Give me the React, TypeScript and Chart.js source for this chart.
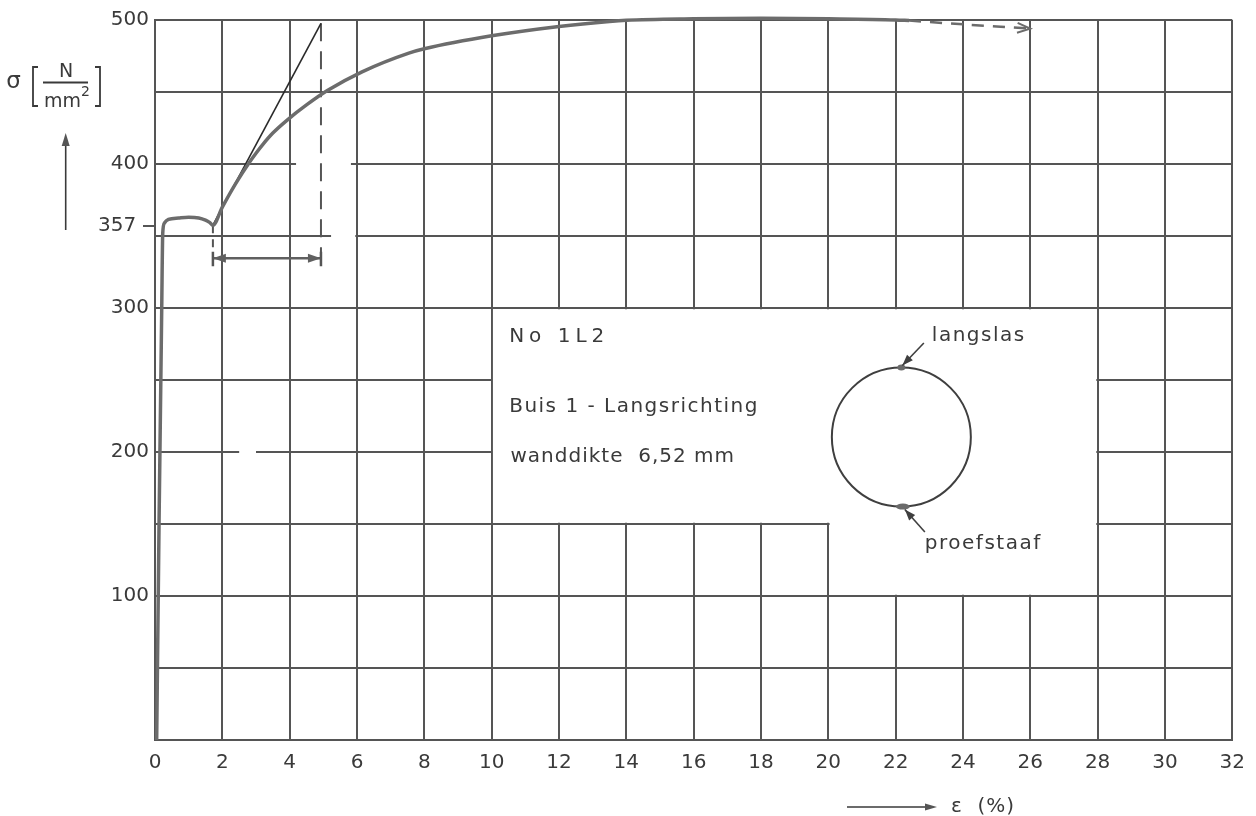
import React, { useEffect, useRef } from 'react';
import { Chart, registerables } from 'chart.js';

Chart.register(...registerables);

// ---- data ----
const strain = [0.05, 0.12, 0.2, 0.23, 0.28, 0.4, 0.7, 1.0, 1.3, 1.5, 1.62, 1.72, 2.0, 2.4, 2.8, 3.0, 3.2, 3.5, 3.9, 4.5, 5.12, 6.15, 7.54, 8, 10, 12, 13.5, 14, 16, 18, 20, 22, 22.4];
const stress = [0, 150, 300, 352, 359, 361.5, 362.5, 363, 362.5, 361, 359.5, 357.5, 370, 386.5, 401, 407.5, 413.5, 421.5, 430, 441, 451, 464, 477, 480, 489, 495.5, 499, 499.8, 500.8, 501.2, 500.8, 500, 499.6];

const contStrain = [22.4, 24, 26];
const contStress = [499.6, 497, 494];

const tangentStrain = [1.72, 4.93];
const tangentStress = [357.5, 497.7];

const uniformStrainLimits = [1.72, 4.93];
const dimStress = [334.5, 334.5];
const capStress = [339, 329];
const rightGuideStress = [497.7, 329];
const leftGuideStress = [357.5, 339];

const xTickValues = [0, 2, 4, 6, 8, 10, 12, 14, 16, 18, 20, 22, 24, 26, 28, 30, 32];
const yGridValues = [0, 50, 100, 150, 200, 250, 300, 350, 400, 450, 500];
const yLabelledValues = [100, 200, 300, 400, 500, 357];
const yieldStress = 357;

const infoLines = ['No 1L2', 'Buis 1 - Langsrichting', 'wanddikte  6,52 mm'];

const pts = (xs: number[], ys: number[]) => xs.map((v, i) => ({ x: v, y: ys[i] }));

// ---- annotation geometry (in data units) ----
const box = { x0: 10, x1: 28, xMid: 20, yTop: 300, yMid: 150, yBot: 100 };
const gridGaps = [
  { y: 400, from: 4.19, to: 5.82 },
  { y: 350, from: 5.23, to: 5.95 },
  { y: 200, from: 2.5, to: 3.0 },
];
const infoPos = [
  { x: 10.52, y: 276.6, spacing: 5 },
  { x: 10.52, y: 228, spacing: 1.5 },
  { x: 10.56, y: 193.3, spacing: 1.0 },
];
const circleCenter = { x: 22.17, y: 210.4 };

const GRID = '#555555';
const TEXT = '#3a3a3a';
const FONT = '"DejaVu Sans", sans-serif';

function arrowHead(ctx: CanvasRenderingContext2D, tipX: number, tipY: number, fromX: number, fromY: number, len: number, half: number, filled: boolean) {
  const ang = Math.atan2(tipY - fromY, tipX - fromX);
  const bx = tipX - Math.cos(ang) * len;
  const by = tipY - Math.sin(ang) * len;
  const px = -Math.sin(ang) * half;
  const py = Math.cos(ang) * half;
  ctx.beginPath();
  if (filled) {
    ctx.moveTo(tipX, tipY);
    ctx.lineTo(bx + px, by + py);
    ctx.lineTo(bx - px, by - py);
    ctx.closePath();
    ctx.fill();
  } else {
    ctx.moveTo(bx + px, by + py);
    ctx.lineTo(tipX, tipY);
    ctx.lineTo(bx - px, by - py);
    ctx.stroke();
  }
}

const annotPlugin = {
  id: 'annot',
  beforeDatasetsDraw(chart: any) {
    const { ctx, scales } = chart;
    const x = scales.x;
    const y = scales.y;
    ctx.save();
    ctx.fillStyle = '#ffffff';
    const i = 1.3;
    const l = x.getPixelForValue(box.x0) + i;
    const r = x.getPixelForValue(box.x1) - i;
    const m = x.getPixelForValue(box.xMid) + i;
    const t = y.getPixelForValue(box.yTop) + i;
    const b1 = y.getPixelForValue(box.yMid) - i;
    const b2 = y.getPixelForValue(box.yBot) - i;
    ctx.beginPath();
    ctx.moveTo(l, t);
    ctx.lineTo(r, t);
    ctx.lineTo(r, b2);
    ctx.lineTo(m, b2);
    ctx.lineTo(m, b1);
    ctx.lineTo(l, b1);
    ctx.closePath();
    ctx.fill();
    gridGaps.forEach((g) => {
      const py = y.getPixelForValue(g.y);
      const a = x.getPixelForValue(g.from);
      const b = x.getPixelForValue(g.to);
      ctx.fillRect(a, py - 2, b - a, 4);
    });
    ctx.restore();
  },
  afterDatasetsDraw(chart: any) {
    const { ctx } = chart;
    chart.data.datasets.forEach((ds: any, idx: number) => {
      if (!ds.arrows) return;
      const meta = chart.getDatasetMeta(idx);
      const d = meta.data;
      if (d.length < 2) return;
      ctx.save();
      ctx.fillStyle = ds.borderColor;
      ctx.strokeStyle = ds.borderColor;
      ctx.lineWidth = 2;
      ctx.setLineDash([]);
      const a = ds.arrows;
      if (a.end) {
        const p = d[d.length - 1];
        const q = d[d.length - 2];
        arrowHead(ctx, p.x, p.y, q.x, q.y, a.len, a.half, a.filled);
      }
      if (a.start) {
        const p = d[0];
        const q = d[1];
        arrowHead(ctx, p.x, p.y, q.x, q.y, a.len, a.half, a.filled);
      }
      ctx.restore();
    });
  },
  afterDraw(chart: any) {
    const { ctx, scales } = chart;
    const x = scales.x;
    const y = scales.y;
    ctx.save();
    ctx.fillStyle = TEXT;
    ctx.strokeStyle = TEXT;
    ctx.textBaseline = 'alphabetic';
    ctx.textAlign = 'left';

    // info text in the box
    ctx.font = `20px ${FONT}`;
    infoLines.forEach((s, k) => {
      const p = infoPos[k];
      (ctx as any).letterSpacing = `${p.spacing}px`;
      ctx.fillText(s, x.getPixelForValue(p.x), y.getPixelForValue(p.y));
    });

    // tube cross-section
    const cx = x.getPixelForValue(circleCenter.x);
    const cy = y.getPixelForValue(circleCenter.y);
    const R = 69.5;
    ctx.lineWidth = 2;
    ctx.strokeStyle = '#3f3f3f';
    ctx.beginPath();
    ctx.arc(cx, cy, R, 0, Math.PI * 2);
    ctx.stroke();
    ctx.fillStyle = '#6a6a6a';
    ctx.beginPath();
    ctx.ellipse(cx, cy - R, 4, 3, 0, 0, Math.PI * 2);
    ctx.fill();
    ctx.beginPath();
    ctx.ellipse(cx + 1.5, cy + R, 7, 3, 0, 0, Math.PI * 2);
    ctx.fill();

    // weld / specimen labels with arrows
    ctx.strokeStyle = '#3f3f3f';
    ctx.fillStyle = '#3f3f3f';
    ctx.lineWidth = 1.6;
    ctx.beginPath();
    ctx.moveTo(cx + 22.5, cy - 94);
    ctx.lineTo(cx + 1, cy - R - 2);
    ctx.stroke();
    arrowHead(ctx, cx + 1, cy - R - 2, cx + 22.5, cy - 94, 11, 4, true);
    ctx.beginPath();
    ctx.moveTo(cx + 23.5, cy + 95);
    ctx.lineTo(cx + 3.5, cy + R + 3);
    ctx.stroke();
    arrowHead(ctx, cx + 3.5, cy + R + 3, cx + 23.5, cy + 95, 11, 4, true);

    ctx.fillStyle = TEXT;
    ctx.font = `20px ${FONT}`;
    (ctx as any).letterSpacing = '1.5px';
    ctx.fillText('langslas', cx + 30.5, cy - 96);
    ctx.fillText('proefstaaf', cx + 23.5, cy + 112);

    // y-axis title
    (ctx as any).letterSpacing = '0px';
    ctx.font = `23px ${FONT}`;
    ctx.textAlign = 'center';
    ctx.textBaseline = 'middle';
    ctx.fillText('σ', 13.5, 82);
    ctx.font = `19px ${FONT}`;
    ctx.fillText('N', 66, 72);
    ctx.textAlign = 'left';
    ctx.textBaseline = 'alphabetic';
    ctx.fillText('mm', 44, 107);
    ctx.font = `14px ${FONT}`;
    ctx.fillText('2', 81, 96);
    ctx.lineWidth = 1.8;
    ctx.strokeStyle = TEXT;
    ctx.beginPath();
    ctx.moveTo(43, 82.5);
    ctx.lineTo(88, 82.5);
    // brackets
    ctx.moveTo(38, 67);
    ctx.lineTo(33, 67);
    ctx.lineTo(33, 106);
    ctx.lineTo(38, 106);
    ctx.moveTo(95, 67);
    ctx.lineTo(100, 67);
    ctx.lineTo(100, 106);
    ctx.lineTo(95, 106);
    ctx.stroke();
    // upward arrow
    ctx.lineWidth = 1.6;
    ctx.beginPath();
    ctx.moveTo(65.7, 230);
    ctx.lineTo(65.7, 143);
    ctx.stroke();
    ctx.fillStyle = '#555';
    arrowHead(ctx, 65.7, 133, 65.7, 230, 13, 4, true);

    // x-axis title
    ctx.strokeStyle = TEXT;
    ctx.beginPath();
    ctx.moveTo(847, 807);
    ctx.lineTo(928, 807);
    ctx.stroke();
    arrowHead(ctx, 937, 807, 847, 807, 12, 3.5, true);
    ctx.fillStyle = TEXT;
    ctx.font = `20px ${FONT}`;
    ctx.textBaseline = 'middle';
    (ctx as any).letterSpacing = '1px';
    ctx.fillText('ε  (%)', 951, 807);
    (ctx as any).letterSpacing = '0px';
    ctx.restore();
  },
};

export default function App() {
  const ref = useRef<HTMLCanvasElement | null>(null);

  useEffect(() => {
    if (!ref.current) return;
    const curveColor = '#6c6c6c';
    const chart = new Chart(ref.current, {
      type: 'line',
      data: {
        datasets: [
          {
            label: 'σ–ε',
            data: pts(strain, stress),
            borderColor: curveColor,
            borderWidth: 3.5,
            pointRadius: 0,
            cubicInterpolationMode: 'monotone',
            clip: 6,
          } as any,
          {
            label: 'vervolg',
            data: pts(contStrain, contStress),
            borderColor: curveColor,
            borderWidth: 2.5,
            borderDash: [12, 9],
            pointRadius: 0,
            tension: 0.3,
            clip: 6,
            arrows: { end: true, filled: false, len: 13, half: 5 },
          } as any,
          {
            label: 'raaklijn',
            data: pts(tangentStrain, tangentStress),
            borderColor: '#2a2a2a',
            borderWidth: 1.6,
            pointRadius: 0,
          } as any,
          {
            label: 'hulplijn rechts',
            data: pts([uniformStrainLimits[1], uniformStrainLimits[1]], rightGuideStress),
            borderColor: GRID,
            borderWidth: 2,
            borderDash: [18, 10],
            pointRadius: 0,
          } as any,
          {
            label: 'hulplijn links',
            data: pts([uniformStrainLimits[0], uniformStrainLimits[0]], leftGuideStress),
            borderColor: GRID,
            borderWidth: 2,
            borderDash: [8, 6],
            pointRadius: 0,
          } as any,
          {
            label: 'kap links',
            data: pts([uniformStrainLimits[0], uniformStrainLimits[0]], capStress),
            borderColor: '#555',
            borderWidth: 2.5,
            pointRadius: 0,
          } as any,
          {
            label: 'kap rechts',
            data: pts([uniformStrainLimits[1], uniformStrainLimits[1]], capStress),
            borderColor: '#555',
            borderWidth: 2.5,
            pointRadius: 0,
          } as any,
          {
            label: 'gelijkmatige rek',
            data: pts(uniformStrainLimits, dimStress),
            borderColor: '#606060',
            borderWidth: 2.5,
            pointRadius: 0,
            arrows: { start: true, end: true, filled: true, len: 13, half: 4.5 },
          } as any,
        ],
      },
      options: {
        animation: false,
        responsive: true,
        maintainAspectRatio: false,
        layout: { padding: { top: 20, right: 19, left: 0, bottom: 0 } },
        plugins: {
          legend: { display: false },
          tooltip: { enabled: false },
          title: { display: false },
        },
        scales: {
          x: {
            type: 'linear',
            min: 0,
            max: 32,
            afterBuildTicks: (s: any) => {
              s.ticks = xTickValues.map((v) => ({ value: v }));
            },
            afterFit: (s: any) => {
              s.height = 76;
            },
            ticks: {
              color: TEXT,
              font: { family: FONT, size: 20 },
              padding: 11,
              maxRotation: 0,
              autoSkip: false,
            },
            grid: { color: GRID, lineWidth: 2, drawTicks: false },
            border: { color: GRID, width: 2 },
          },
          y: {
            type: 'linear',
            min: 0,
            max: 500,
            afterBuildTicks: (s: any) => {
              s.ticks = [...yGridValues, yieldStress].sort((a, b) => a - b).map((v) => ({ value: v }));
            },
            afterFit: (s: any) => {
              s.width = 155;
            },
            ticks: {
              color: TEXT,
              font: { family: FONT, size: 20 },
              padding: -6,
              autoSkip: false,
              callback: (v: any) => {
                if (!yLabelledValues.includes(v)) return '';
                return v === yieldStress ? `${v}  ` : String(v);
              },
            },
            grid: {
              color: (c: any) => (c.tick && c.tick.value === yieldStress ? 'rgba(0,0,0,0)' : GRID),
              tickColor: (c: any) => (c.tick && c.tick.value === yieldStress ? GRID : 'rgba(0,0,0,0)'),
              lineWidth: 2,
              tickWidth: 2,
              tickLength: 12,
              drawTicks: true,
            },
            border: { color: GRID, width: 2 },
          },
        },
      },
      plugins: [annotPlugin],
    } as any);
    return () => chart.destroy();
  }, []);

  return (
    <div style={{ position: 'fixed', left: 0, top: 0, width: 1256, height: 816, background: '#fff' }}>
      <canvas ref={ref} />
    </div>
  );
}
